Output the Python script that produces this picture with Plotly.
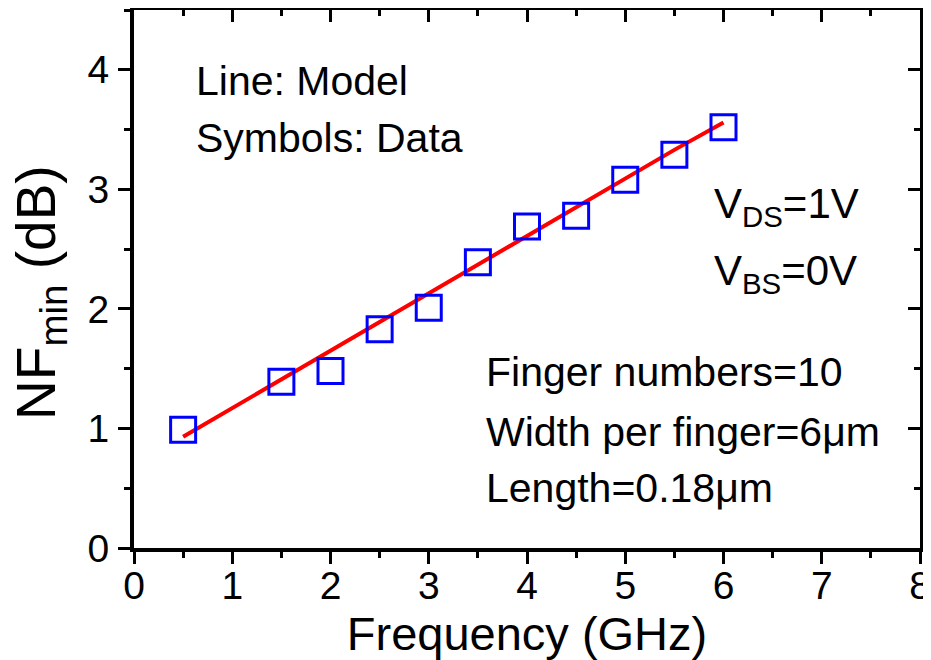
import plotly.graph_objects as go

# Measured data (symbols)
freq = [0.5, 1.5, 2.0, 2.5, 3.0, 3.5, 4.0, 4.5, 5.0, 5.5, 6.0]
nf_data = [0.99, 1.39, 1.48, 1.83, 2.01, 2.39, 2.69, 2.78, 3.08, 3.29, 3.52]

# Model (line)
model_freq = [0.5, 1.5, 2.5, 3.5, 4.5, 5.5, 6.0]
nf_model = [0.93, 1.41, 1.89, 2.37, 2.85, 3.33, 3.56]

x_ticks = [0, 1, 2, 3, 4, 5, 6, 7, 8]
y_ticks = [0, 1, 2, 3, 4]

FONT = "Liberation Sans, Arial, sans-serif"

fig = go.Figure()
fig.add_trace(go.Scatter(
    x=model_freq, y=nf_model, mode="lines",
    line=dict(color="#FF0000", width=4), showlegend=False,
))
fig.add_trace(go.Scatter(
    x=freq, y=nf_data, mode="markers",
    marker=dict(symbol="square-open", size=25, color="#0000FF",
                line=dict(color="#0000FF", width=3)),
    showlegend=False,
))
# empty trace so the mirrored (top/right) axes get drawn
fig.add_trace(go.Scatter(x=[], y=[], xaxis="x2", yaxis="y2",
                         showlegend=False, hoverinfo="skip"))

axis_common = dict(
    showgrid=False, zeroline=False, showline=True, linecolor="black",
    linewidth=4, tickcolor="black", tickwidth=3, ticklen=12, automargin=False,
)

# page body has an 8px margin: figure is sized/margined to compensate
fig.update_layout(
    width=923, height=652,
    margin=dict(l=126, r=11, t=2, b=112),
    paper_bgcolor="white", plot_bgcolor="white",
    font=dict(family=FONT, color="black"),
    xaxis=dict(
        range=[0, 8], tickvals=x_ticks, ticks="outside",
        tickfont=dict(size=39, family=FONT), ticklabelstandoff=-12,
        minor=dict(dtick=0.5, ticks="outside", ticklen=6, tickwidth=3, tickcolor="black"),
        title=dict(text="Frequency (GHz)", font=dict(size=47, family=FONT), standoff=0),
        **axis_common,
    ),
    yaxis=dict(
        range=[0, 4.5], tickvals=y_ticks, ticks="outside",
        tickfont=dict(size=39, family=FONT), ticklabelstandoff=1,
        minor=dict(dtick=0.5, ticks="outside", ticklen=6, tickwidth=3, tickcolor="black"),
        **axis_common,
    ),
    xaxis2=dict(
        overlaying="x", side="top", range=[0, 8], tickvals=x_ticks, ticks="inside",
        showticklabels=False, anchor="y2",
        minor=dict(dtick=0.5, ticks="inside", ticklen=6, tickwidth=3, tickcolor="black"),
        **axis_common,
    ),
    yaxis2=dict(
        overlaying="y", side="right", range=[0, 4.5], tickvals=y_ticks, ticks="inside",
        showticklabels=False, anchor="x2",
        minor=dict(dtick=0.5, ticks="inside", ticklen=6, tickwidth=3, tickcolor="black"),
        **axis_common,
    ),
)

# y-axis title as a rotated annotation
fig.add_annotation(
    x=-0.1196, y=0.476, xref="paper", yref="paper",
    text="NF<sub>min</sub> (dB)", textangle=-90, showarrow=False,
    xanchor="center", yanchor="middle",
    font=dict(size=55, family=FONT, color="black"),
)

notes = [
    ("Line: Model", 0.61, 3.91, 41),
    ("Symbols: Data", 0.61, 3.43, 41),
    ("V<sub>DS</sub>=1V", 5.88, 2.86, 42),
    ("V<sub>BS</sub>=0V", 5.88, 2.30, 42),
    ("Finger numbers=10", 3.56, 1.47, 41),
    ("Width per finger=6μm", 3.56, 0.97, 41),
    ("Length=0.18μm", 3.56, 0.50, 41),
]
for txt, xx, yy, fs in notes:
    fig.add_annotation(
        x=xx, y=yy, xref="x", yref="y", text=txt, showarrow=False,
        xanchor="left", yanchor="middle",
        font=dict(size=fs, family=FONT, color="black"),
    )

fig.write_html("out.html")
